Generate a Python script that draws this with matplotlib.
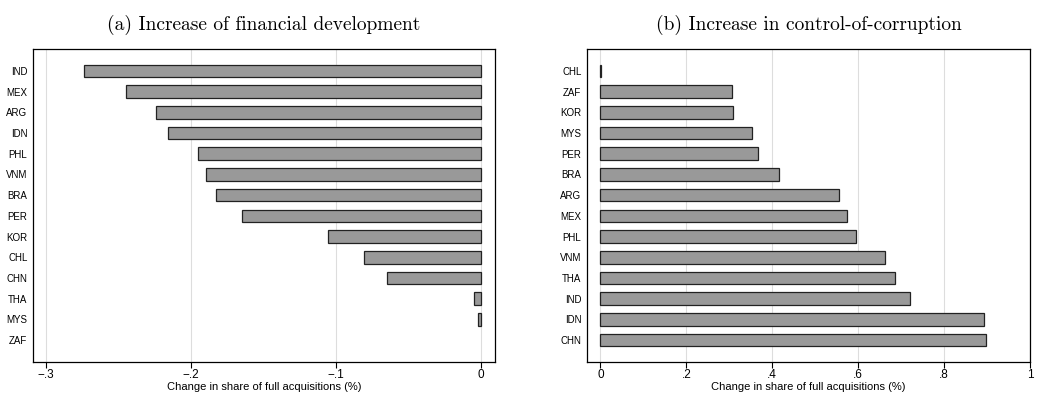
import matplotlib
matplotlib.use("Agg")
import matplotlib.pyplot as plt
import numpy as np

fin_countries = ["IND", "MEX", "ARG", "IDN", "PHL", "VNM", "BRA", "PER",
                 "KOR", "CHL", "CHN", "THA", "MYS", "ZAF"]
fin_values = [-0.274, -0.245, -0.224, -0.216, -0.195, -0.190, -0.183, -0.165,
              -0.1055, -0.081, -0.065, -0.005, -0.0023, 0.0]

cor_countries = ["CHL", "ZAF", "KOR", "MYS", "PER", "BRA", "ARG", "MEX",
                 "PHL", "VNM", "THA", "IND", "IDN", "CHN"]
cor_values = [0.001, 0.307, 0.309, 0.352, 0.366, 0.417, 0.555, 0.573,
              0.596, 0.663, 0.686, 0.721, 0.893, 0.898]

fin_ticks = [-0.3, -0.2, -0.1, 0]
fin_ticklabels = ["\u2212.3", "\u2212.2", "\u2212.1", "0"]
cor_ticks = [0, 0.2, 0.4, 0.6, 0.8, 1.0]
cor_ticklabels = ["0", ".2", ".4", ".6", ".8", "1"]

plt.rcParams["font.family"] = ["Liberation Sans", "DejaVu Sans"]
plt.rcParams["axes.unicode_minus"] = False

fig = plt.figure(figsize=(10.4, 4.01), dpi=100)
ax1 = fig.add_axes([33 / 1040, 39 / 401, 462 / 1040, 313 / 401])
ax2 = fig.add_axes([587 / 1040, 39 / 401, 443 / 1040, 313 / 401])


def draw(ax, names, vals, ticks, labels, xlim, title):
    y = np.arange(len(names))
    edges = ["#222222" if v != 0 else "none" for v in vals]
    ax.barh(y, vals, height=0.61, color="#999999", edgecolor=edges,
            linewidth=0.9, zorder=3)
    ax.set_yticks(y)
    ax.set_yticklabels(names, fontsize=7)
    ax.set_ylim(len(names) - 1 + 1.06, -1.06)
    ax.set_xlim(*xlim)
    ax.set_xticks(ticks)
    ax.set_xticklabels(labels, fontsize=8.5)
    ax.grid(axis="x", color="#dddddd", linewidth=0.8, zorder=0)
    ax.tick_params(axis="y", length=0, pad=4)
    ax.tick_params(axis="x", length=4, width=0.8, pad=1)
    for s in ax.spines.values():
        s.set_linewidth(0.9)
    ax.set_xlabel("Change in share of full acquisitions (%)", fontsize=8, labelpad=1)
    ax.set_title(title, fontsize=14, family="cmr10", pad=14)


draw(ax1, fin_countries, fin_values, fin_ticks, fin_ticklabels, (-0.309, 0.0097),
     "(a) Increase of financial development")
draw(ax2, cor_countries, cor_values, cor_ticks, cor_ticklabels, (-0.031, 0.997),
     "(b) Increase in control-of-corruption")

fig.savefig("out.png", dpi=100)
